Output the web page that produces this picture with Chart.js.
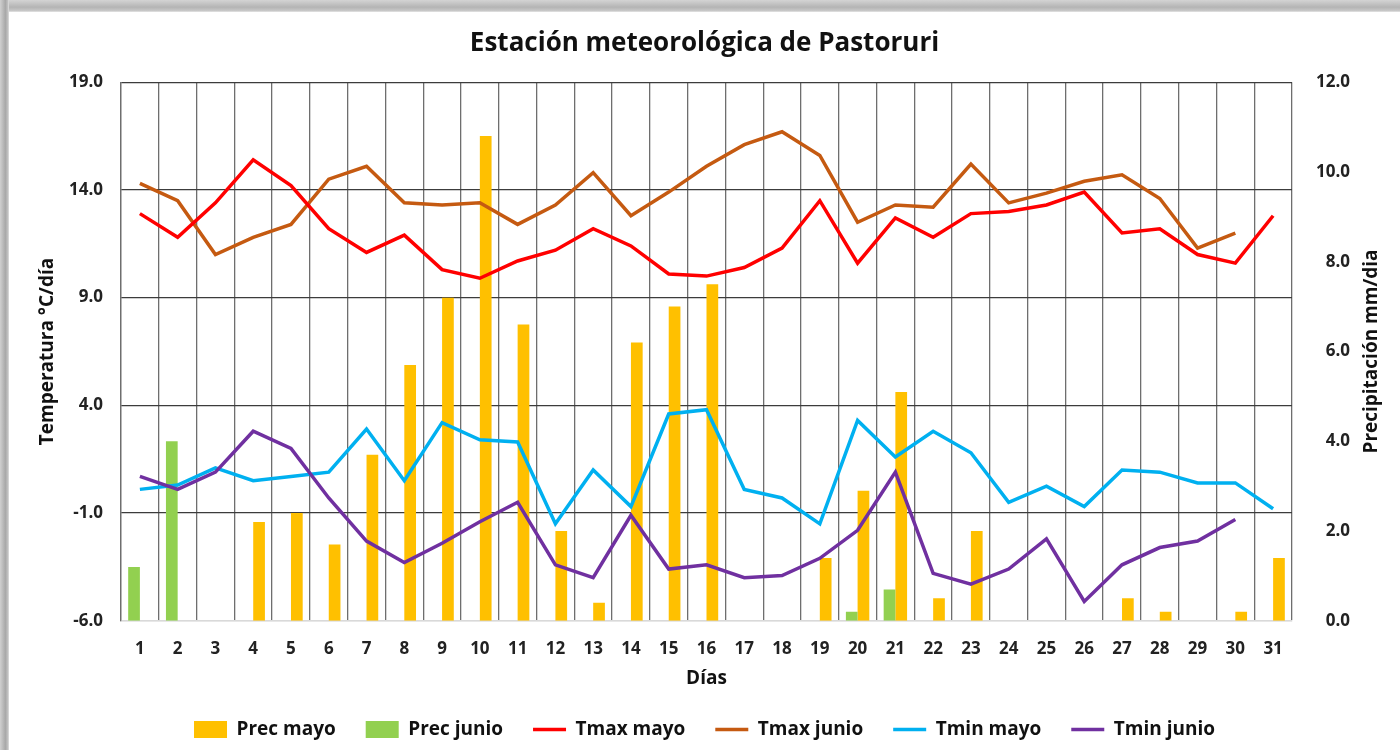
<!DOCTYPE html>
<html>
<head>
<meta charset="utf-8">
<script src="https://cdn.jsdelivr.net/npm/chart.js@4/dist/chart.umd.min.js"></script>
<style>
  html, body { margin: 0; padding: 0; width: 1400px; height: 750px; background: #ffffff; overflow: hidden; }
  #shadowTop { position: absolute; left: 0; top: 0; width: 1400px; height: 12px;
    background: linear-gradient(to bottom, #d4d4d4 0%, #b4b4b4 60%, #c8c8c8 90%, #e8e8e8 100%); }
  #shadowLeft { position: absolute; left: 0; top: 0; width: 9px; height: 750px;
    background: linear-gradient(to right, #d0d0d0 0%, #a8a8a8 60%, #c4c4c4 90%, #e8e8e8 100%); }
  #wrap { position: absolute; left: 9px; top: 12px; width: 1391px; height: 738px; background: #ffffff; }
</style>
</head>
<body>
<div id="shadowTop"></div>
<div id="shadowLeft"></div>
<div id="wrap"><canvas id="c"></canvas></div>
<script>
const days = ['1','2','3','4','5','6','7','8','9','10','11','12','13','14','15','16','17','18','19','20','21','22','23','24','25','26','27','28','29','30','31'];

const precMayo  = [0, 0, 0, 2.2, 2.4, 1.7, 3.7, 5.7, 7.2, 10.8, 6.6, 2.0, 0.4, 6.2, 7.0, 7.5, 0, 0, 1.4, 2.9, 5.1, 0.5, 2.0, 0, 0, 0, 0.5, 0.2, 0, 0.2, 1.4];
const precJunio = [1.2, 4.0, 0, 0, 0, 0, 0, 0, 0, 0, 0, 0, 0, 0, 0, 0, 0, 0, 0, 0.2, 0.7, 0, 0, 0, 0, 0, 0, 0, 0, 0, 0];

const tmaxMayo  = [12.9, 11.8, 13.4, 15.4, 14.2, 12.2, 11.1, 11.9, 10.3, 9.9, 10.7, 11.2, 12.2, 11.4, 10.1, 10.0, 10.4, 11.3, 13.5, 10.6, 12.7, 11.8, 12.9, 13.0, 13.3, 13.9, 12.0, 12.2, 11.0, 10.6, 12.8];
const tmaxJunio = [14.3, 13.5, 11.0, 11.8, 12.4, 14.5, 15.1, 13.4, 13.3, 13.4, 12.4, 13.3, 14.8, 12.8, 13.9, 15.1, 16.1, 16.7, 15.6, 12.5, 13.3, 13.2, 15.2, 13.4, 13.85, 14.4, 14.7, 13.6, 11.3, 12.0, null];
const tminMayo  = [0.1, 0.3, 1.1, 0.5, 0.7, 0.9, 2.9, 0.5, 3.2, 2.4, 2.3, -1.5, 1.0, -0.7, 3.6, 3.8, 0.1, -0.3, -1.5, 3.3, 1.6, 2.8, 1.8, -0.5, 0.25, -0.7, 1.0, 0.9, 0.4, 0.4, -0.8];
const tminJunio = [0.7, 0.1, 0.9, 2.8, 2.0, -0.3, -2.3, -3.3, -2.4, -1.4, -0.5, -3.4, -4.0, -1.1, -3.6, -3.4, -4.0, -3.9, -3.1, -1.8, 0.9, -3.8, -4.3, -3.6, -2.2, -5.1, -3.4, -2.6, -2.3, -1.3, null];

const tempTicks = [19, 14, 9, 4, -1, -6];
const precTicks = [0, 2, 4, 6, 8, 10, 12];

const Y1_TITLE = 'Precipitación mm/dia';
const FONT = "'Open Sans', 'DejaVu Sans', sans-serif";

const rightTitle = {
  id: 'rightTitle',
  afterDraw(chart) {
    const { ctx, chartArea } = chart;
    ctx.save();
    ctx.translate(chartArea.right + 80, (chartArea.top + chartArea.bottom) / 2);
    ctx.rotate(-Math.PI / 2);
    ctx.font = "bold 19px " + FONT;
    ctx.fillStyle = '#111111';
    ctx.textAlign = 'center';
    ctx.textBaseline = 'middle';
    ctx.fillText(Y1_TITLE, 0, 0);
    ctx.restore();
  }
};

new Chart(document.getElementById('c'), {
  data: {
    labels: days,
    datasets: [
      { type: 'bar', label: 'Prec mayo', data: precMayo, yAxisID: 'y1', backgroundColor: '#FFC000', borderWidth: 0, order: 6, pointStyle: 'rect' },
      { type: 'bar', label: 'Prec junio', data: precJunio, yAxisID: 'y1', backgroundColor: '#92D050', borderWidth: 0, order: 5, pointStyle: 'rect' },
      { type: 'line', label: 'Tmax mayo', data: tmaxMayo, yAxisID: 'y', borderColor: '#FF0000', backgroundColor: '#FF0000', borderWidth: 3.5, pointRadius: 0, tension: 0, order: 3, pointStyle: 'line' },
      { type: 'line', label: 'Tmax junio', data: tmaxJunio, yAxisID: 'y', borderColor: '#C55A11', backgroundColor: '#C55A11', borderWidth: 3.5, pointRadius: 0, tension: 0, order: 4, pointStyle: 'line' },
      { type: 'line', label: 'Tmin mayo', data: tminMayo, yAxisID: 'y', borderColor: '#00B0F0', backgroundColor: '#00B0F0', borderWidth: 3.5, pointRadius: 0, tension: 0, order: 2, pointStyle: 'line' },
      { type: 'line', label: 'Tmin junio', data: tminJunio, yAxisID: 'y', borderColor: '#7030A0', backgroundColor: '#7030A0', borderWidth: 3.5, pointRadius: 0, tension: 0, order: 1, pointStyle: 'line' }
    ]
  },
  plugins: [rightTitle],
  options: {
    responsive: true,
    maintainAspectRatio: false,
    animation: false,
    layout: { padding: { top: 0, bottom: 1, left: 50, right: 50 } },
    datasets: { bar: { categoryPercentage: 0.62, barPercentage: 1.0 } },
    plugins: {
      title: {
        display: true,
        text: 'Estación meteorológica de Pastoruri',
        color: '#111111',
        font: { family: FONT, size: 26, weight: 'bold' },
        padding: { top: 16, bottom: 23 }
      },
      legend: {
        position: 'bottom',
        labels: {
          usePointStyle: true,
          pointStyleWidth: 33,
          boxHeight: 17,
          padding: 30,
          color: '#111111',
          font: { family: FONT, size: 19, weight: 'bold' },
          sort: (a, b) => a.datasetIndex - b.datasetIndex
        }
      },
      tooltip: { enabled: false }
    },
    scales: {
      x: {
        offset: true,
        grid: { offset: true, color: '#6e6e6e', lineWidth: 1.3, drawTicks: false },
        border: { color: '#d9d9d9', width: 1.5 },
        ticks: { color: '#222222', padding: 18, font: { family: FONT, size: 17, weight: 'bold' }, maxRotation: 0, autoSkip: false },
        title: { display: true, text: 'Días', color: '#111111', font: { family: FONT, size: 19, weight: 'bold' }, padding: { top: -10, bottom: 0 } }
      },
      y: {
        position: 'left',
        min: -6, max: 19,
        afterBuildTicks: s => { s.ticks = tempTicks.slice().reverse().map(v => ({ value: v })); },
        afterFit: s => { s.width = 62; },
        grid: { color: c => (c.tick && c.tick.value === -6) ? '#d9d9d9' : '#3c3c3c', lineWidth: 1.3, drawTicks: false },
        border: { color: '#6e6e6e', width: 1.3 },
        ticks: { color: '#222222', padding: 18, font: { family: FONT, size: 17, weight: 'bold' }, callback: v => Number(v).toFixed(1) },
        title: { display: true, text: 'Temperatura °C/día', color: '#111111', font: { family: FONT, size: 19, weight: 'bold' }, padding: { top: -23, bottom: 0 } }
      },
      y1: {
        position: 'right',
        min: 0, max: 12,
        afterBuildTicks: s => { s.ticks = precTicks.map(v => ({ value: v })); },
        afterFit: s => { s.width = 58; },
        grid: { display: false, drawTicks: false },
        border: { display: false },
        ticks: { color: '#222222', padding: 21, crossAlign: 'far', font: { family: FONT, size: 17, weight: 'bold' }, callback: v => Number(v).toFixed(1) },
        title: { display: false }
      }
    }
  }
});
</script>
</body>
</html>
